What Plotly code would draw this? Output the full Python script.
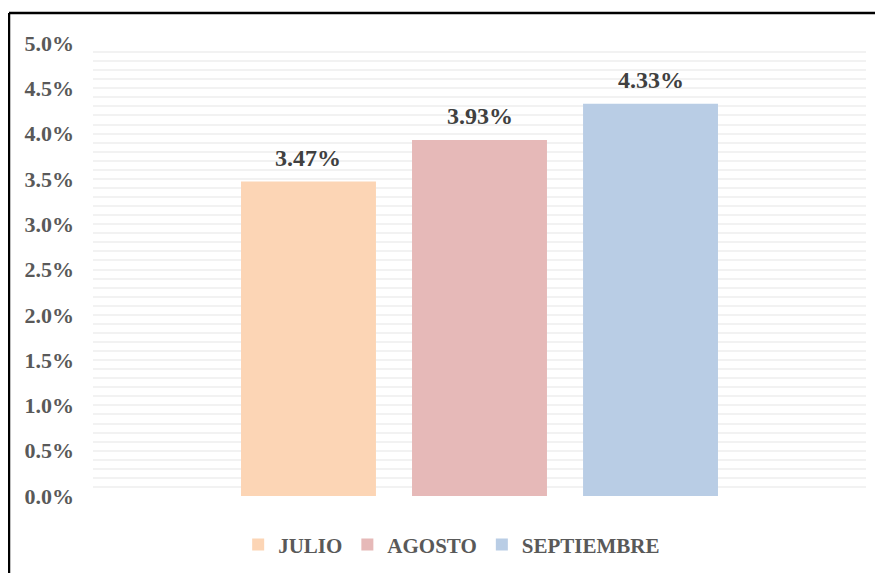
import plotly.graph_objects as go

months = ["JULIO", "AGOSTO", "SEPTIEMBRE"]
values = [0.0347, 0.0393, 0.0433]
colors = ["#FCD5B5", "#E6B9B8", "#B9CDE5"]
y_ticks = [0.0, 0.005, 0.01, 0.015, 0.02, 0.025, 0.03, 0.035, 0.04, 0.045, 0.05]

FONT = "Liberation Serif"

fig = go.Figure()
for m, v, c in zip(months, values, colors):
    fig.add_trace(go.Bar(
        x=[m], y=[v], name=m, marker=dict(color=c, line=dict(width=0)),
        width=0.789, hoverinfo="skip",
    ))
    fig.add_annotation(
        x=m, y=v, text="<b>%.2f%%</b>" % (v * 100), showarrow=False,
        yanchor="middle", yshift=24,
        font=dict(family=FONT, size=24, color="#404040"),
    )

fig.update_layout(
    width=883, height=573,
    margin=dict(l=85, r=25, t=35, b=85, autoexpand=False),
    paper_bgcolor="white", plot_bgcolor="white",
    barmode="overlay",
    showlegend=True,
    legend=dict(
        orientation="h", x=0.464, xanchor="center", y=-0.108, yanchor="middle",
        font=dict(family=FONT, size=21, color="#595959", weight="bold"),
        itemclick=False, itemdoubleclick=False, itemwidth=30,
    ),
    xaxis=dict(
        range=[-1.26, 3.26], showticklabels=False, showgrid=False,
        zeroline=False, showline=False, ticks="",
    ),
    yaxis=dict(
        range=[0, 0.05], tickvals=y_ticks, tickformat=".1%",
        tickfont=dict(family=FONT, size=22, color="#595959", weight="bold"),
        showgrid=True, gridcolor="#F2F2F2", gridwidth=2,
        minor=dict(dtick=0.001, showgrid=True, gridcolor="#F2F2F2", gridwidth=2),
        zeroline=False, showline=False, ticks="", ticklabelstandoff=18,
    ),
)

# chart border (top and left visible)
fig.add_shape(type="line", xref="paper", yref="paper",
              x0=(9 - 93) / 773, x1=1.1, y0=(496 - 13) / 453, y1=(496 - 13) / 453,
              line=dict(color="black", width=2.5))
fig.add_shape(type="line", xref="paper", yref="paper",
              x0=(9 - 93) / 773, x1=(9 - 93) / 773, y0=(496 - 13) / 453, y1=-0.25,
              line=dict(color="black", width=2.5))

fig.write_html("out.html")
